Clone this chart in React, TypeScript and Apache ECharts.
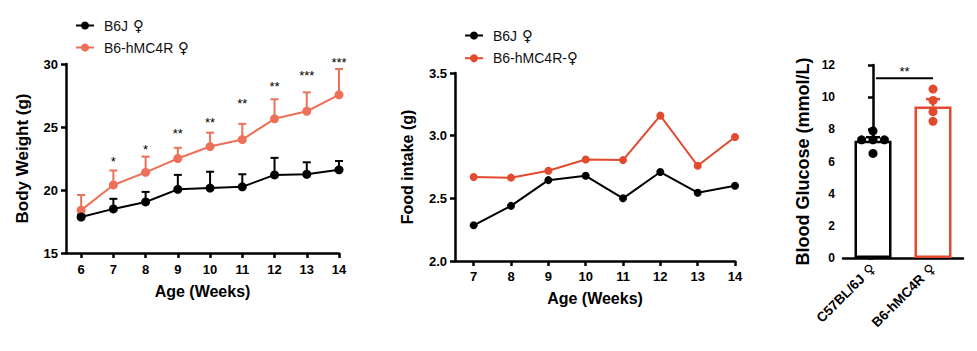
import React, { useEffect, useRef } from "react";
import * as echarts from "echarts";

// ---- Body weight (left) ----
const weeks = [6, 7, 8, 9, 10, 11, 12, 13, 14];
const b6jWeight = [17.85, 18.5, 19.05, 20.05, 20.15, 20.25, 21.2, 21.25, 21.6];
const b6jWeightErr = [0.2, 0.8, 0.8, 1.15, 1.3, 1.0, 1.35, 0.95, 0.7];
const hmc4rWeight = [18.4, 20.4, 21.4, 22.5, 23.45, 24.0, 25.65, 26.25, 27.55];
const hmc4rWeightErr = [1.2, 1.15, 1.25, 0.85, 1.1, 1.25, 1.55, 1.5, 2.05];
const weightStars = ["", "*", "*", "**", "**", "**", "**", "***", "***"];
const weightStarHeights: (number | null)[] = [null, 22.52, 23.44, 24.72, 25.63, 27.09, 28.47, 29.31, 30.37];
const weightTicks = [15, 20, 25, 30];

// ---- Food intake (middle) ----
const foodWeeks = [7, 8, 9, 10, 11, 12, 13, 14];
const b6jFood = [2.285, 2.44, 2.645, 2.68, 2.5, 2.71, 2.545, 2.6];
const hmc4rFood = [2.67, 2.665, 2.72, 2.81, 2.805, 3.16, 2.76, 2.99];

// ---- Blood glucose (right) ----
const glucoseGroups = ["C57BL/6J ♀", "B6-hMC4R ♀"];
const glucoseMean = [7.29, 9.42];
const glucoseSem = [0.22, 0.46];
const b6jGlucose = [7.9, 7.35, 7.35, 7.35, 6.5];
const b6jGlucoseJitter = [0, -0.19, 0, 0.19, 0];
const hmc4rGlucose = [10.5, 9.8, 9.1, 8.5];
const hmc4rGlucoseJitter = [0, 0, 0, 0];
const glucoseSigText = "**";
const glucoseSigBracket = [0.05, 1.0, 11.18];
const glucoseSigTextHeight = 11.8;

// legend names
const nameB6J = "B6J ♀";
const nameHmcWeight = "B6-hMC4R ♀";
const nameHmcFood = "B6-hMC4R-♀";

const RED_LIGHT = "#EE7059";
const RED = "#E2492E";
const FONT = "'Liberation Sans', Arial, sans-serif";
const SYM_FONT = "'DejaVu Sans', sans-serif";

const femaleRich = (s: string) => s.replace(/( ?♀)/g, "{f|$1}");

const axisLabelStyle = { color: "#000", fontWeight: "bold" as const, fontSize: 13, fontFamily: FONT };
const axisLineStyle = { show: true, lineStyle: { color: "#000", width: 2.5 } };
const axisTickStyle = { show: true, length: 5, lineStyle: { color: "#000", width: 2.5 } };
const nameStyle = { color: "#000", fontWeight: "bold" as const, fontSize: 16, fontFamily: FONT };

const legendText = {
  fontSize: 14,
  color: "#111",
  fontFamily: FONT,
  padding: [0, 0, 0, 5],
  rich: { f: { fontFamily: SYM_FONT, fontSize: 15, color: "#111" } },
};

function errorBarSeries(name: string, xs: number[], ys: number[], errs: number[], color: string, xAxisIndex: number, yAxisIndex: number, capHalf: number, z: number) {
  return {
    type: "custom",
    name,
    xAxisIndex,
    yAxisIndex,
    z,
    silent: true,
    data: xs.map((x, i) => [x, ys[i], errs[i]]),
    renderItem: (_params: any, api: any) => {
      const x = api.value(0);
      const y = api.value(1);
      const e = api.value(2);
      const p0 = api.coord([x, y]);
      const p1 = api.coord([x, y + e]);
      const style = { stroke: color, lineWidth: 2 };
      return {
        type: "group",
        children: [
          { type: "line", shape: { x1: p0[0], y1: p0[1], x2: p1[0], y2: p1[1] }, style },
          { type: "line", shape: { x1: p1[0] - capHalf, y1: p1[1], x2: p1[0] + capHalf, y2: p1[1] }, style },
        ],
      };
    },
  };
}

export default function App() {
  const ref = useRef<HTMLDivElement>(null);

  useEffect(() => {
    if (!ref.current) return;
    const chart = echarts.init(ref.current, undefined, { renderer: "svg" });

    const option: any = {
      animation: false,
      backgroundColor: "#fff",
      textStyle: { fontFamily: FONT },
      legend: [
        {
          left: 70,
          top: 13,
          orient: "vertical",
          itemWidth: 18,
          itemHeight: 10,
          itemGap: 7,
          data: [nameB6J, nameHmcWeight],
          formatter: femaleRich,
          textStyle: legendText,
          selectedMode: false,
        },
        {
          left: 459,
          top: 23,
          orient: "vertical",
          itemWidth: 18,
          itemHeight: 10,
          itemGap: 7.7,
          data: [nameB6J, nameHmcFood],
          formatter: femaleRich,
          textStyle: legendText,
          selectedMode: false,
        },
      ],
      grid: [
        { left: 66, top: 64, width: 273, height: 189 },
        { left: 455, top: 73, width: 280, height: 188 },
        { left: 843, top: 65, width: 120, height: 193 },
      ],
      xAxis: [
        {
          gridIndex: 0,
          type: "value",
          min: 5.53,
          max: 14,
          name: "Age (Weeks)",
          nameLocation: "middle",
          nameGap: 30,
          nameTextStyle: nameStyle,
          axisLine: axisLineStyle,
          axisTick: { ...axisTickStyle, customValues: weeks },
          axisLabel: { ...axisLabelStyle, margin: 10, customValues: weeks },
          splitLine: { show: false },
        },
        {
          gridIndex: 1,
          type: "value",
          min: 6.5,
          max: 14,
          name: "Age (Weeks)",
          nameLocation: "middle",
          nameGap: 29,
          nameTextStyle: nameStyle,
          axisLine: axisLineStyle,
          axisTick: { ...axisTickStyle, customValues: foodWeeks },
          axisLabel: { ...axisLabelStyle, margin: 9, customValues: foodWeeks },
          splitLine: { show: false },
        },
        {
          gridIndex: 2,
          type: "category",
          data: glucoseGroups,
          axisLine: axisLineStyle,
          axisTick: { show: false },
          axisLabel: {
            ...axisLabelStyle,
            fontSize: 13.5,
            rotate: 45,
            interval: 0,
            margin: 8,
            formatter: femaleRich,
            rich: { f: { fontFamily: SYM_FONT, fontSize: 14, color: "#000" } },
          },
        },
        {
          gridIndex: 2,
          type: "value",
          min: -0.5,
          max: 1.5,
          show: false,
        },
      ],
      yAxis: [
        {
          gridIndex: 0,
          type: "value",
          min: 15,
          max: 30,
          interval: 5,
          name: "Body Weight (g)",
          nameLocation: "middle",
          nameGap: 35,
          nameTextStyle: { ...nameStyle, fontSize: 17 },
          axisLine: axisLineStyle,
          axisTick: { ...axisTickStyle, customValues: weightTicks },
          axisLabel: { ...axisLabelStyle, margin: 8 },
          splitLine: { show: false },
        },
        {
          gridIndex: 1,
          type: "value",
          min: 2,
          max: 3.5,
          interval: 0.5,
          name: "Food intake (g)",
          nameLocation: "middle",
          nameGap: 40,
          nameTextStyle: nameStyle,
          axisLine: axisLineStyle,
          axisTick: axisTickStyle,
          axisLabel: { ...axisLabelStyle, margin: 8, formatter: (v: number) => v.toFixed(1) },
          splitLine: { show: false },
        },
        {
          gridIndex: 2,
          type: "value",
          min: 0,
          max: 12,
          interval: 2,
          name: "Blood Glucose (mmol/L)",
          nameLocation: "middle",
          nameGap: 31,
          nameTextStyle: { ...nameStyle, fontSize: 18 },
          axisLine: axisLineStyle,
          axisTick: axisTickStyle,
          axisLabel: { ...axisLabelStyle, fontSize: 12, margin: 8 },
          splitLine: { show: false },
        },
      ],
      series: [
        // left: body weight
        errorBarSeries("errB6JWeight", weeks, b6jWeight, b6jWeightErr, "#000", 0, 0, 4, 2),
        errorBarSeries("errHmcWeight", weeks, hmc4rWeight, hmc4rWeightErr, RED_LIGHT, 0, 0, 4, 2),
        {
          type: "line",
          name: nameB6J,
          xAxisIndex: 0,
          yAxisIndex: 0,
          z: 4,
          data: weeks.map((w, i) => [w, b6jWeight[i]]),
          symbol: "circle",
          symbolSize: 9,
          itemStyle: { color: "#000" },
          lineStyle: { color: "#000", width: 2 },
        },
        {
          type: "line",
          name: nameHmcWeight,
          xAxisIndex: 0,
          yAxisIndex: 0,
          z: 3,
          data: weeks.map((w, i) => [w, hmc4rWeight[i]]),
          symbol: "circle",
          symbolSize: 9,
          itemStyle: { color: RED_LIGHT },
          lineStyle: { color: RED_LIGHT, width: 2 },
        },
        {
          type: "custom",
          name: "weightStars",
          xAxisIndex: 0,
          yAxisIndex: 0,
          silent: true,
          z: 5,
          data: weeks
            .map((w, i) => [w, weightStarHeights[i], i])
            .filter((d) => d[1] != null),
          renderItem: (_params: any, api: any) => {
            const p = api.coord([api.value(0), api.value(1)]);
            const idx = api.value(2);
            return {
              type: "text",
              x: p[0],
              y: p[1] + 3,
              style: {
                text: weightStars[idx],
                fill: "#000",
                fontSize: 13,
                fontFamily: FONT,
                align: "center",
                verticalAlign: "middle",
              },
            };
          },
        },
        // middle: food intake
        {
          type: "line",
          name: nameB6J,
          xAxisIndex: 1,
          yAxisIndex: 1,
          data: foodWeeks.map((w, i) => [w, b6jFood[i]]),
          symbol: "circle",
          symbolSize: 8,
          itemStyle: { color: "#000" },
          lineStyle: { color: "#000", width: 2 },
        },
        {
          type: "line",
          name: nameHmcFood,
          xAxisIndex: 1,
          yAxisIndex: 1,
          data: foodWeeks.map((w, i) => [w, hmc4rFood[i]]),
          symbol: "circle",
          symbolSize: 8,
          itemStyle: { color: RED },
          lineStyle: { color: RED, width: 2 },
        },
        // right: blood glucose
        {
          type: "bar",
          name: "glucoseMean",
          xAxisIndex: 2,
          yAxisIndex: 2,
          barWidth: 37,
          z: 2,
          data: glucoseMean.map((v, i) => ({
            value: v,
            itemStyle: { color: "#fff", borderColor: i === 0 ? "#000" : RED, borderWidth: 2.5 },
          })),
        },
        {
          type: "custom",
          name: "glucoseErr",
          xAxisIndex: 2,
          yAxisIndex: 2,
          z: 3,
          silent: true,
          data: glucoseMean.map((v, i) => [i, v, glucoseSem[i]]),
          renderItem: (_params: any, api: any) => {
            const i = api.value(0);
            const y = api.value(1);
            const e = api.value(2);
            const p0 = api.coord([i, y]);
            const p1 = api.coord([i, y + e]);
            const color = i === 0 ? "#000" : RED;
            const style = { stroke: color, lineWidth: 2.5 };
            return {
              type: "group",
              children: [
                { type: "line", shape: { x1: p0[0], y1: p0[1], x2: p1[0], y2: p1[1] }, style },
                { type: "line", shape: { x1: p1[0] - 7, y1: p1[1], x2: p1[0] + 7, y2: p1[1] }, style },
              ],
            };
          },
        },
        {
          type: "scatter",
          name: "b6jGlucosePts",
          xAxisIndex: 3,
          yAxisIndex: 2,
          z: 4,
          symbolSize: 9,
          itemStyle: { color: "#000", opacity: 1 },
          data: b6jGlucose.map((v, i) => [0 + b6jGlucoseJitter[i], v]),
        },
        {
          type: "scatter",
          name: "hmcGlucosePts",
          xAxisIndex: 3,
          yAxisIndex: 2,
          z: 4,
          symbolSize: 9,
          itemStyle: { color: RED, opacity: 1 },
          data: hmc4rGlucose.map((v, i) => [1 + hmc4rGlucoseJitter[i], v]),
        },
        {
          type: "custom",
          name: "glucoseSig",
          xAxisIndex: 3,
          yAxisIndex: 2,
          z: 5,
          silent: true,
          data: [[glucoseSigBracket[0], glucoseSigBracket[1], glucoseSigBracket[2], glucoseSigTextHeight]],
          renderItem: (_params: any, api: any) => {
            const a = api.coord([api.value(0), api.value(2)]);
            const b = api.coord([api.value(1), api.value(2)]);
            const t = api.coord([(api.value(0) + api.value(1)) / 2, api.value(3)]);
            return {
              type: "group",
              children: [
                { type: "line", shape: { x1: a[0], y1: a[1], x2: b[0], y2: b[1] }, style: { stroke: "#000", lineWidth: 2 } },
                {
                  type: "text",
                  x: t[0],
                  y: t[1] + 3,
                  style: {
                    text: glucoseSigText,
                    fill: "#000",
                    fontSize: 13,
                    fontFamily: FONT,
                    align: "center",
                    verticalAlign: "middle",
                  },
                },
              ],
            };
          },
        },
      ],
    };

    chart.setOption(option);
    return () => chart.dispose();
  }, []);

  return (
    <div
      ref={ref}
      style={{ position: "absolute", left: 0, top: 0, width: 977, height: 351, background: "#fff" }}
    />
  );
}
